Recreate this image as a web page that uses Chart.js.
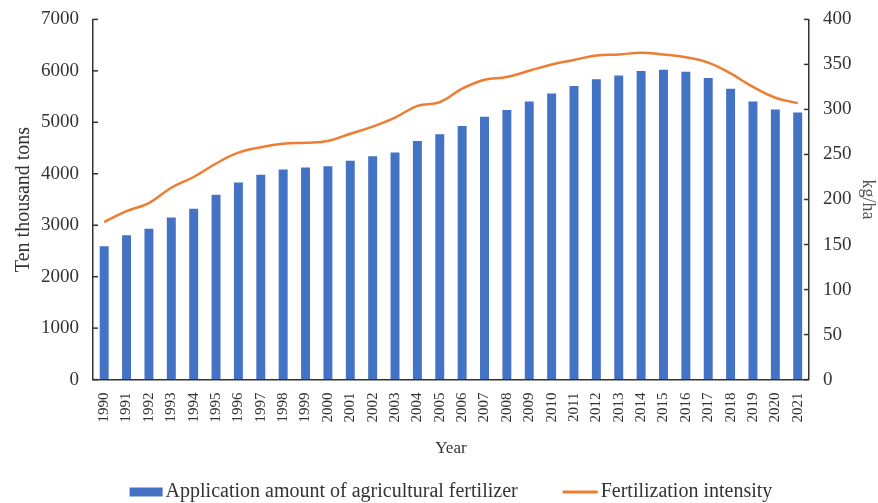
<!DOCTYPE html>
<html>
<head>
<meta charset="utf-8">
<script src="https://cdn.jsdelivr.net/npm/chart.js@4/dist/chart.umd.min.js"></script>
<style>
  html, body { margin: 0; padding: 0; background: #fff; }
  #wrap { width: 878px; height: 503px; }
</style>
</head>
<body>
<div id="wrap"><canvas id="fertChart"></canvas></div>
<script>
// ===== data =====
const years = ["1990","1991","1992","1993","1994","1995","1996","1997","1998","1999",
  "2000","2001","2002","2003","2004","2005","2006","2007","2008","2009","2010",
  "2011","2012","2013","2014","2015","2016","2017","2018","2019","2020","2021"];

// application amount (ten thousand tons)
const fertAmount = [2590, 2805, 2930, 3152, 3318, 3594, 3828, 3981, 4084, 4124,
  4146, 4254, 4339, 4412, 4637, 4766, 4928, 5108, 5239, 5404, 5562,
  5704, 5839, 5912, 5996, 6023, 5984, 5859, 5653, 5404, 5251, 5191];

// fertilization intensity (kg/ha)
const fertIntensity = [175, 187, 196, 213, 225, 240, 252, 258, 262, 263,
  265, 273, 281, 291, 304, 308, 323, 333, 336, 343, 350,
  355, 360, 361, 363, 361, 358, 352, 340, 325, 313, 307];

const leftTicks = [0, 1000, 2000, 3000, 4000, 5000, 6000, 7000];
const rightTicks = [0, 50, 100, 150, 200, 250, 300, 350, 400];

// ===== style =====
const serif = "'Liberation Serif', 'Times New Roman', serif";
const txt = "#333";
const axisCol = "#333";
const barColor = "#4472C4";
const lineColor = "#ED7D31";

// inward tick marks on both y axes + legend drawn at the bottom
const extrasPlugin = {
  id: "extras",
  afterDraw(chart) {
    const c = chart.ctx;
    const yl = chart.scales.yL, yr = chart.scales.yR;
    c.save();
    c.strokeStyle = axisCol;
    c.lineWidth = 1.5;
    yl.ticks.forEach(t => {
      const y = yl.getPixelForValue(t.value);
      c.beginPath(); c.moveTo(yl.right, y); c.lineTo(yl.right + 5, y); c.stroke();
    });
    yr.ticks.forEach(t => {
      const y = yr.getPixelForValue(t.value);
      c.beginPath(); c.moveTo(yr.left, y); c.lineTo(yr.left - 5, y); c.stroke();
    });

    // legend
    const barDs = chart.data.datasets[1], lineDs = chart.data.datasets[0];
    c.font = "20px " + serif;
    c.textBaseline = "middle";
    const w1 = c.measureText(barDs.label).width;
    const w2 = c.measureText(lineDs.label).width;
    const boxW = 33, lineW = 35, gapIn = 3, gapOut = 45;
    const total = boxW + gapIn + w1 + gapOut + lineW + gapIn + w2;
    const cy = chart.height - 11;
    let x = (chart.chartArea.left + chart.chartArea.right) / 2 - total / 2;
    c.fillStyle = barColor;
    c.fillRect(x, cy - 4.5, boxW, 9);
    x += boxW + gapIn;
    c.fillStyle = txt;
    c.fillText(barDs.label, x, cy);
    x += w1 + gapOut;
    c.strokeStyle = lineColor;
    c.lineWidth = 3;
    c.beginPath(); c.moveTo(x, cy); c.lineTo(x + lineW, cy); c.stroke();
    x += lineW + gapIn;
    c.fillText(lineDs.label, x, cy);
    c.restore();
  }
};

// y axes: hidden library tick marks only reserve space; real ticks are drawn inward above
const yGrid = { display: true, drawOnChartArea: false, drawTicks: true, tickLength: 6, tickColor: "rgba(0,0,0,0)" };

const ctx = document.getElementById("fertChart").getContext("2d");
new Chart(ctx, {
  type: "bar",
  data: {
    labels: years,
    datasets: [
      {
        type: "line",
        label: "Fertilization intensity",
        data: fertIntensity,
        yAxisID: "yR",
        borderColor: lineColor,
        backgroundColor: lineColor,
        borderWidth: 2.5,
        tension: 0.4,
        pointRadius: 0,
        order: 0
      },
      {
        label: "Application amount of agricultural fertilizer",
        data: fertAmount,
        yAxisID: "yL",
        backgroundColor: barColor,
        borderWidth: 0,
        barPercentage: 0.4,
        categoryPercentage: 1,
        order: 1
      }
    ]
  },
  options: {
    responsive: true,
    maintainAspectRatio: false,
    animation: false,
    layout: { padding: { left: 12, right: 0, top: 6, bottom: 44 } },
    plugins: {
      legend: { display: false },
      tooltip: { enabled: false }
    },
    scales: {
      x: {
        offset: true,
        grid: { display: false, drawTicks: false },
        border: { color: axisCol, width: 1.5 },
        ticks: {
          minRotation: 90, maxRotation: 90, padding: 13,
          color: txt, font: { family: serif, size: 15 }
        },
        title: {
          display: true, text: "Year", color: txt,
          font: { family: serif, size: 17 }, padding: { top: 3, bottom: 0 }
        }
      },
      yL: {
        position: "left",
        min: 0, max: 7000,
        afterBuildTicks(axis) { axis.ticks = leftTicks.map(v => ({ value: v })); },
        grid: yGrid,
        border: { color: axisCol, width: 1.5 },
        ticks: {
          color: txt, padding: 8, font: { family: serif, size: 19 },
          callback: v => String(v)
        },
        title: {
          display: true, text: "Ten thousand tons", color: txt,
          font: { family: serif, size: 20 }, padding: { top: 0, bottom: -3 }
        }
      },
      yR: {
        position: "right",
        min: 0, max: 400,
        afterBuildTicks(axis) { axis.ticks = rightTicks.map(v => ({ value: v })); },
        grid: yGrid,
        border: { color: axisCol, width: 1.5 },
        ticks: {
          color: txt, padding: 8, font: { family: serif, size: 19 },
          callback: v => String(v)
        },
        title: {
          display: true, text: "kg/ha", color: "#555",
          font: { family: serif, size: 18 }, padding: { top: -1, bottom: -2 }
        }
      }
    }
  },
  plugins: [extrasPlugin]
});
</script>
</body>
</html>
